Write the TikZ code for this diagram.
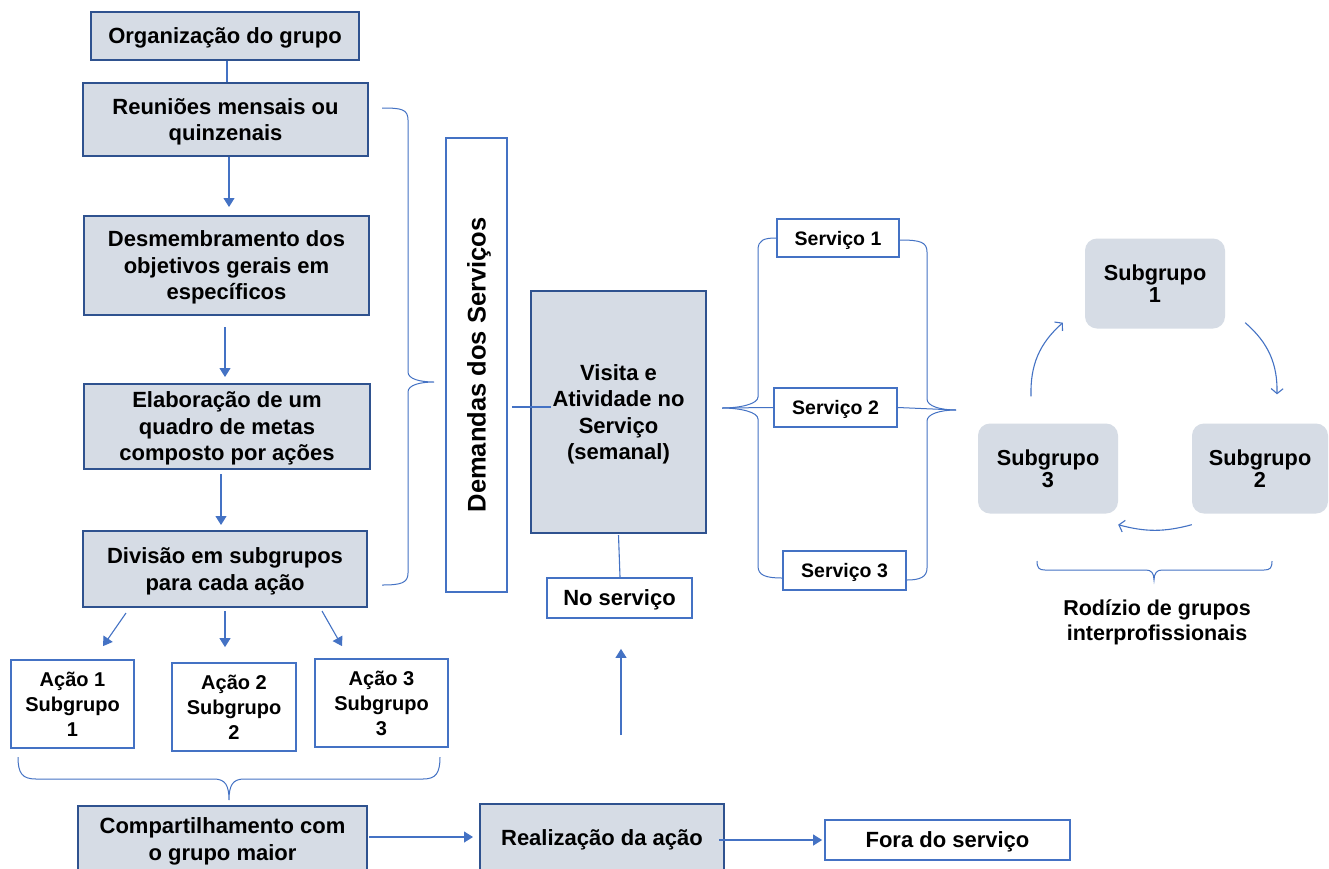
\documentclass[tikz,border=0pt]{standalone}
\usepackage{fontspec}
\setmainfont{Liberation Sans}
\usetikzlibrary{arrows.meta,calc}
\definecolor{dkb}{HTML}{2F528F}
\definecolor{blu}{HTML}{4472C4}
\definecolor{gfill}{HTML}{D6DCE5}
\newcommand\T[2][2.6pt]{\raisebox{-#1}[\height][\depth]{\begin{tabular}{@{}c@{}}#2\end{tabular}}}
\begin{document}
\begin{tikzpicture}[x=1pt,y=-1pt,
  font=\bfseries\fontsize{22}{26.5}\selectfont,
  gbox/.style={draw=dkb, line width=2pt, fill=gfill, align=center, inner sep=0pt},
  wbox/.style={draw=blu, line width=1.8pt, fill=white, align=center, inner sep=0pt},
  sgbox/.style={fill=gfill, rounded corners=12pt, align=center, inner sep=0pt,
     minimum width=140pt, minimum height=90pt, font=\bfseries\fontsize{21.7}{22}\selectfont},
  acbox/.style={wbox, minimum height=88pt, font=\bfseries\fontsize{20}{25}\selectfont},
  svbox/.style={wbox, minimum height=39pt, minimum width=123pt, font=\bfseries\fontsize{19.5}{24}\selectfont},
  con/.style={draw=blu, line width=1.1pt},
  arr/.style={con, -{Triangle[width=11pt,length=9pt]}},
  cyc/.style={con, -{Straight Barb[length=5pt,width=12pt]}},
  brc/.style={draw=blu, line width=1pt}]
\fill[white] (0,0) rectangle (1329,868);
\useasboundingbox (0,0) rectangle (1329,868);
\clip (0,0) rectangle (1329,868);

% left column
\node[gbox, minimum width=268pt, minimum height=48pt] (org) at (225,36) {\T{Organização do grupo}};
\node[gbox, minimum width=285pt, minimum height=73pt] (reu) at (225.5,119.5) {\T{Reuniões mensais ou\\quinzenais}};
\node[gbox, minimum width=285pt, minimum height=99pt] (des) at (226.5,265.5) {\T{Desmembramento dos\\objetivos gerais em\\específicos}};
\node[gbox, minimum width=286pt, minimum height=85pt] (ela) at (227,426.5) {\T{Elaboração de um\\quadro de metas\\composto por ações}};
\node[gbox, minimum width=284pt, minimum height=76pt] (div) at (225,569) {\T{Divisão em subgrupos\\para cada ação}};

\draw[con] ($(org.south)+(2,0)$) -- ($(reu.north)+(1.5,0)$);
\draw[arr] ($(reu.south)+(3.5,0)$) -- ($(des.north)+(2.5,-8)$);
\draw[arr] ($(des.south)+(-1.5,11)$) -- ($(ela.north)+(-2,-6)$);
\draw[arr] ($(ela.south)+(-6,4)$) -- ($(div.north)+(-4,-5)$);

% actions
\node[acbox, minimum width=123pt] (a1) at (72.5,704) {\T[2.2pt]{Ação 1\\Subgrupo\\1}};
\node[acbox, minimum width=124pt] (a2) at (234,707) {\T[2.2pt]{Ação 2\\Subgrupo\\2}};
\node[acbox, minimum width=133pt] (a3) at (381.5,703) {\T[2.2pt]{Ação 3\\Subgrupo\\3}};
\draw[arr] ($(div.south)+(-99,5)$) -- ($(a1.north)+(30.5,-13)$);
\draw[arr] ($(div.south)+(0,3)$) -- ($(a2.north)+(-9,-15)$);
\draw[arr] ($(div.south)+(97,3)$) -- ($(a3.north)+(-39.5,-12)$);

% brace under actions
\draw[brc] (18,757) .. controls (18,773) and (22,779) .. (36,779) -- (214,779)
  .. controls (225,779) and (229,785) .. (229,800)
  .. controls (229,785) and (233,779) .. (244,779) -- (423,779)
  .. controls (436,779) and (440,773) .. (440,757);

% bottom row
\node[gbox, minimum width=289pt, minimum height=66pt] (comp) at (222.5,839) {\T{Compartilhamento com\\o grupo maior}};
\node[gbox, minimum width=244pt, minimum height=68pt] (real) at (602,838) {\T{Realização da ação}};
\node[wbox, minimum width=245pt, minimum height=40pt] (fora) at (947.5,840) {\T{Fora do serviço}};
\draw[arr] ($(comp.east)+(1,-2)$) -- ($(real.west)+(-6,-1)$);
\draw[arr] ($(real.east)+(-6,2)$) -- ($(fora.west)+(-2,0)$);

% big brace right of left column
\draw[brc] (382,108) .. controls (401,108) and (408,109) .. (408,120) -- (408,372)
  .. controls (408,379) and (420,382) .. (434,382)
  .. controls (420,382) and (408,385) .. (408,392) -- (408,573)
  .. controls (408,583) and (401,585) .. (382,585);

% demandas
\node[wbox, minimum width=61pt, minimum height=454pt] (dem) at (476.5,365) {};
\node[rotate=90, font=\bfseries\fontsize{25.5}{30}\selectfont] (demt) at (dem.center) {\T[3.1pt]{Demandas dos Serviços}};

% visita
\node[gbox, minimum width=175pt, minimum height=242pt] (vis) at (618.5,412) {\T{Visita e\\Atividade no\\Serviço\\(semanal)}};
\draw[con] ($(dem.east)+(4,42)$) -- ($(vis.west)+(21,-5)$);
\node[wbox, minimum width=145pt, minimum height=40pt] (nos) at (619.5,598) {\T{No serviço}};
\draw[con] ($(vis.south)+(0,1)$) -- ($(nos.north)+(0.5,0)$);
\coordinate (up) at (621,735);
\draw[arr] (up) -- ($(nos.south)+(1.5,30)$);

% services
\node[svbox, minimum width=122pt, minimum height=38pt] (s1) at (838,238) {\T[2.2pt]{Serviço 1}};
\node[svbox] (s2) at (835.5,407.5) {\T[2.2pt]{Serviço 2}};
\node[svbox] (s3) at (844.5,570.5) {\T[2.2pt]{Serviço 3}};
\coordinate (lt) at (722,408);
\coordinate (rt) at (956,410);
\draw[brc] (s1.west) .. controls (764,238) and (758,240) .. (758,250) -- (758,397)
  .. controls (758,404) and (740,408) .. (lt)
  .. controls (740,408) and (758,412) .. (758,419) -- (758,566)
  .. controls (758,575) and (765,578) .. ($(s3.west)+(0,7.5)$);
\draw[brc] (lt) -- (s2.west);
\draw[brc] ($(s1.east)+(0,2)$) .. controls (920,240) and (927,242) .. (927,252) -- (927,399)
  .. controls (927,406) and (940,410) .. (rt)
  .. controls (940,410) and (927,414) .. (927,421) -- (927,568)
  .. controls (927,577) and (920,580) .. ($(s3.east)+(0,9.5)$);
\draw[brc] (s2.east) -- (rt);

% subgroup cycle
\node[sgbox] (g1) at (1155,283.5) {\T[3.3pt]{Subgrupo\\1}};
\node[sgbox, minimum width=136pt] (g2) at (1260,468.5) {\T[3.3pt]{Subgrupo\\2}};
\node[sgbox] (g3) at (1048,468.5) {\T[3.3pt]{Subgrupo\\3}};
\draw[cyc] ($(g1.south east)+(20,-6)$) to[bend left=25] ($(g2.north)+(17,-29)$);
\draw[cyc] ($(g2.south west)+(0,11)$) to[bend left=15] ($(g3.south east)+(0,11)$);
\draw[cyc] ($(g3.north)+(-17,-27)$) to[bend left=25] ($(g1.south west)+(-22,-6)$);

\draw[brc] (1037,561) .. controls (1037,568) and (1039,570) .. (1045,570) -- (1146,570)
  .. controls (1151,570) and (1154,573) .. (1154,580)
  .. controls (1154,573) and (1157,570) .. (1162,570) -- (1264,570)
  .. controls (1270,570) and (1272,568) .. (1272,561);
\node[font=\bfseries\fontsize{21.5}{25}\selectfont] (rod) at (1157,620) {\T[2.5pt]{Rodízio de grupos\\interprofissionais}};
\end{tikzpicture}
\end{document}
